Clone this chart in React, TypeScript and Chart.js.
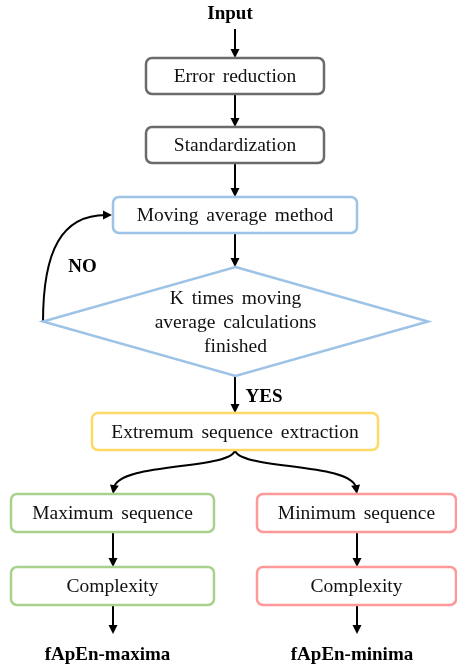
import React, { useEffect, useRef } from "react";
import { Chart, registerables } from "chart.js";

Chart.register(...registerables);

// ---- data ----
const nodeLabels = [
  "Error reduction",
  "Standardization",
  "Moving average method",
  "K times moving\naverage calculations\nfinished",
  "Extremum sequence extraction",
  "Maximum sequence",
  "Minimum sequence",
  "Complexity",
  "Complexity",
];
const nodeKinds = ["box", "box", "box", "diamond", "box", "box", "box", "box", "box"];
const nodeX = [235, 235, 235, 235.5, 235, 112.5, 356.5, 112.5, 356.5];
const nodeY = [76, 145, 215, 321.5, 431.5, 513, 513, 586, 586];
const nodeW = [178, 178, 244, 385, 286, 203, 199, 203, 199];
const nodeH = [36, 36, 36, 109, 37, 38, 38, 38, 38];
const nodeColors = ["#6b6b6b", "#6b6b6b", "#9dc3e6", "#9dc3e6", "#ffd966", "#a9d18e", "#ff9999", "#a9d18e", "#ff9999"];

const termLabels = ["Input", "fApEn-maxima", "fApEn-minima", "NO", "YES"];
const termX = [230, 107.5, 352, 82.5, 264];
const termY = [13, 654, 654, 266, 396];

// straight arrows: [x1, y1, x2, y2]
const arrowX1 = [235, 235, 235, 235, 235, 113, 357, 113, 357];
const arrowY1 = [29, 94, 163, 233, 376, 532, 532, 605, 605];
const arrowX2 = [235, 235, 235, 235, 235, 113, 357, 113, 357];
const arrowY2 = [58, 127, 197, 267, 413, 567, 567, 634, 634];

// curved arrows: start, control1, control2, end
const curveX = [
  [43, 43, 62, 112],
  [235, 232, 118, 113],
  [235, 238, 352, 357],
];
const curveY = [
  [322, 250, 215, 215],
  [450, 470, 462, 494],
  [450, 470, 462, 494],
];

const W = 457;
const H = 667;

function arrowHead(ctx: CanvasRenderingContext2D, x: number, y: number, ang: number) {
  const len = 9;
  const half = 4.5;
  ctx.save();
  ctx.translate(x, y);
  ctx.rotate(ang);
  ctx.beginPath();
  ctx.moveTo(0, 0);
  ctx.lineTo(-len, -half);
  ctx.lineTo(-len, half);
  ctx.closePath();
  ctx.fillStyle = "#000";
  ctx.fill();
  ctx.restore();
}

const flowPlugin = {
  id: "flow",
  afterDatasetsDraw(chart: any) {
    const ctx: CanvasRenderingContext2D = chart.ctx;
    const sx = chart.scales.x;
    const sy = chart.scales.y;
    const px = (v: number) => sx.getPixelForValue(v);
    const py = (v: number) => sy.getPixelForValue(v);
    const kx = Math.abs(px(1) - px(0));
    const ky = Math.abs(py(1) - py(0));
    ctx.save();

    // straight arrows
    ctx.strokeStyle = "#000";
    ctx.lineWidth = 2;
    for (let i = 0; i < arrowX1.length; i++) {
      const x1 = px(arrowX1[i]), y1 = py(arrowY1[i]);
      const x2 = px(arrowX2[i]), y2 = py(arrowY2[i]);
      const ang = Math.atan2(y2 - y1, x2 - x1);
      ctx.beginPath();
      ctx.moveTo(x1, y1);
      ctx.lineTo(x2 - Math.cos(ang) * 6, y2 - Math.sin(ang) * 6);
      ctx.stroke();
      arrowHead(ctx, x2, y2, ang);
    }

    // curved arrows
    for (let i = 0; i < curveX.length; i++) {
      const xs = curveX[i].map(px);
      const ys = curveY[i].map(py);
      const ang = Math.atan2(ys[3] - ys[2], xs[3] - xs[2]);
      ctx.beginPath();
      ctx.moveTo(xs[0], ys[0]);
      ctx.bezierCurveTo(xs[1], ys[1], xs[2], ys[2], xs[3] - Math.cos(ang) * 6, ys[3] - Math.sin(ang) * 6);
      ctx.stroke();
      arrowHead(ctx, xs[3], ys[3], ang);
    }

    // nodes
    ctx.lineWidth = 2.5;
    for (let i = 0; i < nodeLabels.length; i++) {
      const cx = px(nodeX[i]), cy = py(nodeY[i]);
      const w = nodeW[i] * kx, h = nodeH[i] * ky;
      ctx.strokeStyle = nodeColors[i];
      ctx.fillStyle = "#fff";
      ctx.beginPath();
      if (nodeKinds[i] === "diamond") {
        ctx.moveTo(cx, cy - h / 2);
        ctx.lineTo(cx + w / 2, cy);
        ctx.lineTo(cx, cy + h / 2);
        ctx.lineTo(cx - w / 2, cy);
        ctx.closePath();
      } else {
        ctx.roundRect(cx - w / 2, cy - h / 2, w, h, 6);
      }
      ctx.fill();
      ctx.stroke();

      ctx.fillStyle = "#111";
      ctx.font = "19.5px 'Liberation Serif', 'Times New Roman', serif";
      ctx.textAlign = "center";
      ctx.textBaseline = "middle";
      (ctx as any).wordSpacing = nodeKinds[i] === "diamond" ? "3px" : "3px";
      const lines = nodeLabels[i].split("\n");
      const lh = 24;
      lines.forEach((ln, j) => {
        ctx.fillText(ln, cx, cy + (j - (lines.length - 1) / 2) * lh + 1);
      });
      (ctx as any).wordSpacing = "0px";
    }

    // terminal labels
    ctx.fillStyle = "#000";
    ctx.font = "bold 19px 'Liberation Serif', 'Times New Roman', serif";
    ctx.textAlign = "center";
    ctx.textBaseline = "middle";
    for (let i = 0; i < termLabels.length; i++) {
      ctx.fillText(termLabels[i], px(termX[i]), py(termY[i]) + 1);
    }
    ctx.restore();
  },
};

export default function App() {
  const ref = useRef<HTMLCanvasElement | null>(null);
  useEffect(() => {
    if (!ref.current) return;
    const chart = new Chart(ref.current, {
      type: "scatter",
      data: {
        datasets: [
          {
            data: nodeX.map((x, i) => ({ x, y: nodeY[i] })),
            pointRadius: 0,
            showLine: false,
          },
        ],
      },
      options: {
        animation: false,
        responsive: false,
        maintainAspectRatio: false,
        layout: { padding: 0 },
        plugins: { legend: { display: false }, tooltip: { enabled: false } },
        scales: {
          x: { type: "linear", min: 0, max: W, display: false },
          y: { type: "linear", min: 0, max: H, reverse: true, display: false },
        },
      },
      plugins: [flowPlugin],
    });
    return () => chart.destroy();
  }, []);
  return (
    <div style={{ position: "fixed", left: 0, top: 0, width: W, height: H, background: "#fff" }}>
      <canvas ref={ref} width={W} height={H} style={{ width: W, height: H, display: "block" }} />
    </div>
  );
}
